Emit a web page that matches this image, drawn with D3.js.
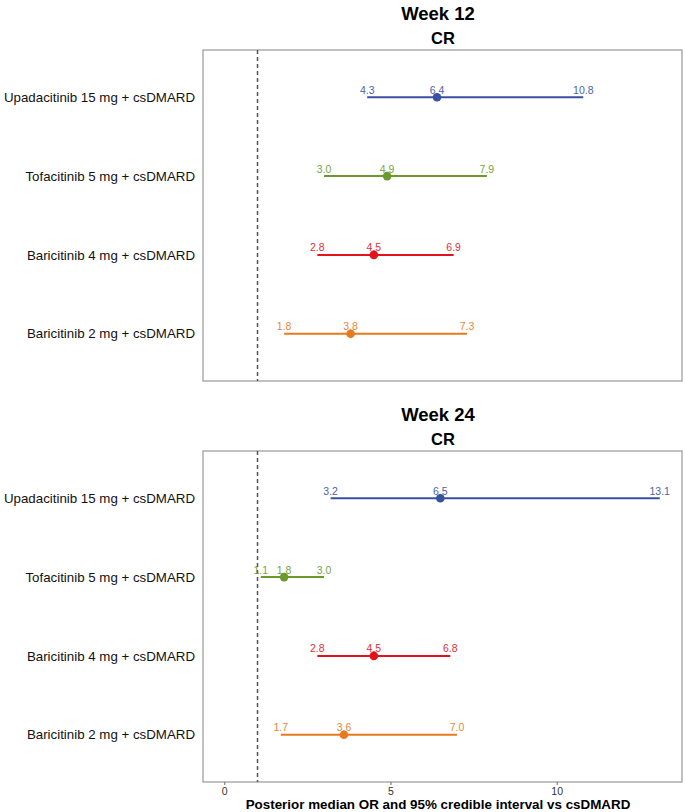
<!DOCTYPE html>
<html><head><meta charset="utf-8">
<script src="https://cdn.jsdelivr.net/npm/d3@7"></script>
<style>body{margin:0;background:#fff}svg{display:block;font-family:"Liberation Sans",Arial,sans-serif}</style>
</head><body>
<svg id="c" width="685" height="812"></svg>
<script>
const treatments = ["Upadacitinib 15 mg + csDMARD","Tofacitinib 5 mg + csDMARD","Baricitinib 4 mg + csDMARD","Baricitinib 2 mg + csDMARD"];
const colors = ["#3a51a0","#6a9a2a","#e0141a","#e67a1e"];
const week12Median = [6.4, 4.9, 4.5, 3.8];
const week12Lower = [4.3, 3.0, 2.8, 1.8];
const week12Upper = [10.8, 7.9, 6.9, 7.3];
const week24Median = [6.5, 1.8, 4.5, 3.6];
const week24Lower = [3.2, 1.1, 2.8, 1.7];
const week24Upper = [13.1, 3.0, 6.8, 7.0];
const xTicks = [0, 5, 10];
const panels = [
  {title:"Week 12", sub:"CR", med:week12Median, lo:week12Lower, hi:week12Upper},
  {title:"Week 24", sub:"CR", med:week24Median, lo:week24Lower, hi:week24Upper}
];

const svg = d3.select("#c");
const L = 203, R = 682;
const x = d3.scaleLinear().domain([-0.64, 13.77]).range([L, R]);
const panelTops = [50, 451];
const panelH = 331;

panels.forEach((p, pi) => {
  const top = panelTops[pi];
  const g = svg.append("g");
  const y = d3.scalePoint().domain(treatments).range([top + panelH*0.6/4.2, top + panelH*3.6/4.2]);
  g.append("text").attr("x", 438).attr("y", top - 30).attr("text-anchor","middle")
    .attr("font-size", 18.5).attr("font-weight","bold").text(p.title);
  g.append("text").attr("x", 443).attr("y", top - 6).attr("text-anchor","middle")
    .attr("font-size", 16.5).attr("font-weight","bold").text(p.sub);
  g.append("rect").attr("x", L).attr("y", top).attr("width", R-L).attr("height", panelH)
    .attr("fill","none").attr("stroke","#a0a0a0").attr("stroke-width",1.3);
  g.append("line").attr("x1", x(1)).attr("x2", x(1)).attr("y1", top).attr("y2", top+panelH)
    .attr("stroke","#555").attr("stroke-width",1.5).attr("stroke-dasharray","4,3");
  g.selectAll(".yl").data(treatments).enter().append("text")
    .attr("x", 195).attr("y", d => y(d)).attr("dy","0.35em").attr("text-anchor","end")
    .attr("font-size", 13.3).attr("fill","#111").text(d => d);
  treatments.forEach((t, i) => {
    const c = colors[i], yy = y(t);
    g.append("line").attr("x1", x(p.lo[i])).attr("x2", x(p.hi[i])).attr("y1", yy).attr("y2", yy)
      .attr("stroke", c).attr("stroke-width", 2);
    g.append("circle").attr("cx", x(p.med[i])).attr("cy", yy).attr("r", 4.3).attr("fill", c);
    [p.lo[i], p.med[i], p.hi[i]].forEach(v => {
      g.append("text").attr("x", x(v)).attr("y", yy - 3.5).attr("text-anchor","middle")
        .attr("font-size", 10.5).attr("fill", c).attr("opacity",0.9).text(v.toFixed(1));
    });
  });
});

const axisY = panelTops[1] + panelH;
const ax = svg.append("g").attr("transform", `translate(0,${axisY})`)
  .call(d3.axisBottom(x).tickValues(xTicks).tickSize(3).tickPadding(3).tickFormat(d3.format("d")));
ax.select(".domain").remove();
ax.selectAll("line").attr("stroke","#666");
ax.selectAll("text").attr("font-size", 10.5).attr("fill","#333").attr("font-family","Liberation Sans, Arial, sans-serif");
svg.append("text").attr("x", 438).attr("y", 809).attr("text-anchor","middle")
  .attr("font-size", 13.4).attr("font-weight","bold").text("Posterior median OR and 95% credible interval vs csDMARD");
</script>
</body></html>
